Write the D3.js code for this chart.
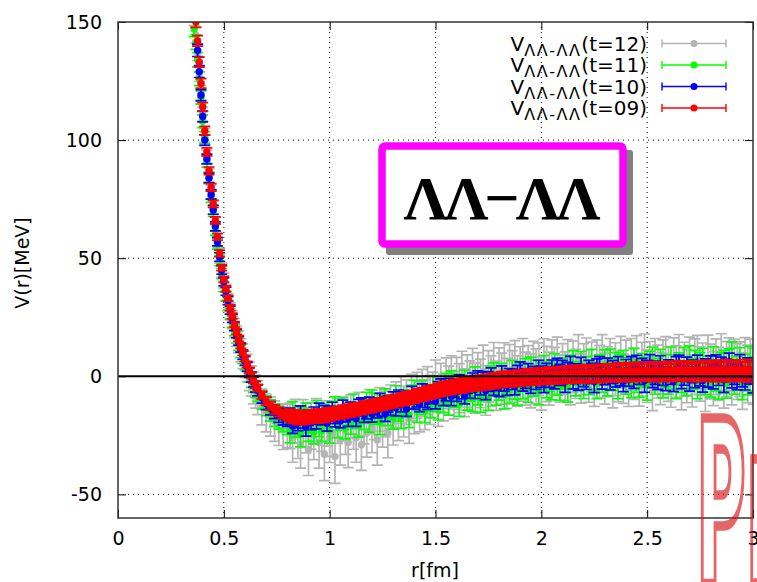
<!DOCTYPE html>
<html>
<head>
<meta charset="utf-8">
<script src="https://cdn.jsdelivr.net/npm/d3@7"></script>
<style>
  body { margin: 0; background: #fff; }
  svg { display: block; }
</style>
</head>
<body>
<svg id="chart" width="757" height="582"></svg>
<script>
// ---- data -------------------------------------------------------------
// separation r [fm], shared by all time slices
const rValues = [
  0.360,0.368,0.376,0.384,0.392,0.400,0.410,0.420,0.430,0.440,
  0.450,0.460,0.470,0.480,0.490,0.500,0.510,0.520,0.530,0.540,
  0.550,0.560,0.570,0.580,0.590,0.600,0.610,0.620,0.630,0.640,
  0.650,0.660,0.680,0.700,0.720,0.740,0.760,0.780,0.800,
  0.8125,0.825,0.8375,0.850,0.8625,0.875,0.8875,0.900,0.9125,0.925,
  0.9375,0.950,0.9625,0.975,0.9875,1.000,1.0125,1.025,1.0375,1.050,
  1.0625,1.075,1.0875,1.100,1.1125,1.125,1.1375,1.150,1.1625,1.175,
  1.1875,1.200,1.2125,1.225,1.2375,1.250,1.2625,1.275,1.2875,1.300,
  1.3125,1.325,1.3375,1.350,1.3625,1.375,1.3875,1.400,1.4125,1.425,
  1.4375,1.450,1.4625,1.475,1.4875,1.500,1.5125,1.525,1.5375,1.550,
  1.5625,1.575,1.5875,1.600,1.6125,1.625,1.6375,1.650,1.6625,1.675,
  1.6875,1.700,1.7125,1.725,1.7375,1.750,1.7625,1.775,1.7875,1.800,
  1.8125,1.825,1.8375,1.850,1.8625,1.875,1.8875,1.900,1.9125,1.925,
  1.9375,1.950,1.9625,1.975,1.9875,2.000,2.0125,2.025,2.0375,2.050,
  2.0625,2.075,2.0875,2.100,2.1125,2.125,2.1375,2.150,2.1625,2.175,
  2.1875,2.200,2.2125,2.225,2.2375,2.250,2.2625,2.275,2.2875,2.300,
  2.3125,2.325,2.3375,2.350,2.3625,2.375,2.3875,2.400,2.4125,2.425,
  2.4375,2.450,2.4625,2.475,2.4875,2.500,2.5125,2.525,2.5375,2.550,
  2.5625,2.575,2.5875,2.600,2.6125,2.625,2.6375,2.650,2.6625,2.675,
  2.6875,2.700,2.7125,2.725,2.7375,2.750,2.7625,2.775,2.7875,2.800,
  2.8125,2.825,2.8375,2.850,2.8625,2.875,2.8875,2.900,2.9125,2.925,
  2.9375,2.950,2.9625,2.975,2.9875,3.000
];

// V(r) [MeV] and statistical errors, t = 12
const vT12 = [
  152,144.5,137,128,120,111,102,93,85,78,
  71.5,64.5,57.5,51,45,40.5,35.5,31.5,27.5,24,
  20.5,17,14.5,11,8.5,5,3.5,0,-2,-5,
  -6.5,-9,-13,-15.5,-17,-19,-20.5,-22,-21,
  -21,-26,-19,-24,-29,-20,-23,-31,-21,-25,
  -19,-28,-22,-33,-20,-26,-24,-34,-19,-27,
  -18,-23,-28,-17,-21,-26,-16,-29,-19,-24,
  -15,-22,-17,-27,-14,-20,-16,-24,-13,-19,
  -12,-17,-10,-15,-11,-18,-9,-14,-8,-13,
  -7,-12,-6,-10,-8,-4,-11,-5,-9,-3,
  -6,-2,-8,-3,-5,0,-7,-2,-4,1,
  -5,-1,-3,2,-6,0,-2,3,-4,1,
  -1,3,-3,2,0,4,-2,1,5,-1,
  2,-2,4,0,3,-3,5,1,-1,4,
  2,6,-1,3,0,5,-2,4,1,7,
  -1,3,6,0,4,-2,5,2,7,-1,
  2,5,-3,3,0,6,-1,4,-2,5,
  1,6,-2,3,7,0,4,-3,5,2,
  -1,4,6,1,-2,5,2,6,-3,3,
  0,5,-2,4,6,1,3,-3,6,2,
  -1,4,1,6,-2,3,5,0,4,2,
  3,-2,5,1,4,0
];
const eT12 = [
  3.5,3.4,3.3,3.2,3.1,3.0,3.0,2.9,2.9,2.9,
  2.9,2.9,3.0,3.0,3.1,3.2,3.3,3.4,3.6,3.8,
  4.0,4.3,4.6,4.9,5.2,5.5,5.8,6.1,6.4,6.7,
  7.0,7.2,7.6,8.0,8.3,8.6,8.8,9.0,9.2,
  9.6,10.4,9.2,10.8,9.9,10.1,9.4,11.0,9.8,10.3,
  9.5,10.9,9.8,11.2,9.6,10.5,9.9,11.3,9.4,10.6,
  9.3,10.1,10.7,9.1,9.9,10.4,9.2,10.8,9.6,10.2,
  9.4,10.3,9.8,10.6,9.2,10.0,9.7,10.5,9.3,10.1,
  9.6,10.2,9.9,10.7,9.5,10.4,9.8,10.3,9.7,10.5,
  9.9,10.6,10.1,10.4,9.8,10.9,10.2,10.5,9.9,10.8,
  10.3,10.7,10.0,11.0,10.4,10.6,10.1,11.1,10.5,10.8,
  10.6,11.0,10.3,11.2,10.5,10.9,10.7,11.3,10.4,11.0,
  10.8,11.2,10.6,11.4,10.9,11.1,10.7,11.5,11.0,11.2,
  11.0,11.4,10.8,11.6,11.1,11.3,10.9,11.7,11.2,11.4,
  10.2,10.6,10.0,10.8,10.3,10.5,10.1,10.9,10.4,10.6,
  10.4,10.8,10.2,11.0,10.5,10.7,10.3,11.1,10.6,10.8,
  10.6,11.0,10.4,11.2,10.7,10.9,10.5,11.3,10.8,11.0,
  10.8,11.2,10.6,11.4,10.9,11.1,10.7,11.5,11.0,11.2,
  11.0,11.4,10.8,11.6,11.1,11.3,10.9,11.7,11.2,11.4,
  11.2,11.6,11.0,11.8,11.3,11.5,11.1,11.9,11.4,11.6,
  11.4,11.8,11.2,12.0,11.5,11.7,11.3,12.1,11.6,11.8,
  11.6,12.0,11.4,12.2,11.7,11.9
];

// t = 11
const vT11 = [
  147,141.5,134,126,118,108,101,91,84,76,
  70,62,56,49,43.5,38,34,30,26.5,23,
  19.5,16.5,13.5,10.5,8,5.5,3,0.5,-1.5,-3.5,
  -5.5,-7,-10,-12.5,-14.5,-16.5,-17.5,-18.5,-19.5,
  -23.0,-15.5,-20.4,-17.2,-24.6,-18.5,-16.1,-22.2,-19.2,-23.5,
  -15.1,-20.3,-23.0,-16.9,-18.2,-22.9,-15.3,-13.7,-20.8,-18.3,
  -14.2,-21.8,-16.3,-19.7,-12.6,-17.5,-20.4,-14.1,-17.8,-12.0,
  -18.7,-11.0,-15.7,-12.2,-19.4,-13.0,-10.4,-16.3,-13.0,-17.1,
  -9.1,-14.2,-16.8,-10.6,-11.8,-16.4,-8.7,-6.9,-14.0,-11.3,
  -7.1,-14.6,-9.1,-12.4,-5.3,-10.1,-13.0,-6.6,-10.3,-4.4,
  -11.1,-3.4,-8.0,-4.6,-11.8,-5.4,-2.8,-8.7,-5.4,-9.5,
  -1.6,-6.8,-9.4,-3.3,-4.5,-9.2,-1.5,0.2,-6.9,-4.3,
  -0.2,-7.8,-2.4,-5.8,1.3,-3.7,-6.6,-0.3,-4.1,1.7,
  -5.1,2.5,-2.2,1.1,-6.1,0.1,2.7,-3.3,-0.1,-4.3,
  3.6,-1.7,-4.4,1.6,0.3,-4.5,3.1,4.7,-2.5,0.1,
  4.3,-3.5,1.8,-1.8,5.1,0.0,-3.1,3.0,-0.9,4.7,
  -2.0,5.5,0.6,3.8,-3.6,2.5,4.9,-1.2,1.8,-2.5,
  5.4,0.0,-2.8,3.1,1.7,-3.2,4.3,5.8,-1.5,0.9,
  4.9,-2.9,2.4,-1.2,5.7,0.6,-2.5,3.6,-0.3,5.3,
  -1.6,5.9,1.0,4.2,-3.2,2.9,5.3,-0.8,2.2,-2.1,
  5.7,0.3,-2.5,3.4,2.0,-2.9,4.6,6.1,-1.2,1.2,
  5.2,-2.6,2.7,-0.9,6.0,0.9
];
const eT11 = [
  3.2,3.1,3.0,2.9,2.8,2.7,2.6,2.5,2.4,2.4,
  2.3,2.3,2.3,2.2,2.2,2.2,2.2,2.2,2.2,2.3,
  2.3,2.4,2.5,2.6,2.7,2.8,2.9,3.0,3.2,3.3,
  3.5,3.6,3.9,4.2,4.5,4.7,4.9,5.0,5.2,
  5.2,4.8,5.5,4.6,5.3,5.0,4.7,5.4,4.9,5.1,
  4.8,5.3,4.6,5.1,4.9,5.4,4.7,5.0,5.2,4.6,
  5.0,4.7,5.3,4.8,5.1,4.6,5.4,4.9,4.7,5.2,
  4.9,5.2,4.7,5.0,5.3,4.8,5.1,4.6,5.0,5.3,
  5.1,4.8,5.4,5.0,4.7,5.3,4.9,5.2,5.5,4.8,
  5.3,5.0,5.6,5.1,5.4,4.9,5.5,5.2,5.0,5.6,
  5.4,5.7,5.1,5.5,5.2,5.8,5.3,5.6,5.1,5.5,
  5.6,5.3,5.9,5.4,5.7,5.2,5.8,5.5,5.3,5.9,
  5.7,6.0,5.5,5.8,5.4,6.1,5.6,5.9,5.5,5.8,
  5.9,5.6,6.2,5.7,6.0,5.5,6.1,5.8,6.3,5.7,
  6.0,6.3,5.8,6.1,5.7,6.4,5.9,6.2,5.8,6.1,
  6.2,5.9,6.5,6.0,6.3,5.8,6.4,6.1,5.9,6.5,
  6.3,6.0,6.6,6.2,5.9,6.7,6.1,6.4,6.0,6.5,
  6.4,6.8,6.1,6.5,6.2,6.9,6.3,6.6,6.1,6.7,
  6.5,6.2,6.9,6.4,6.7,6.1,7.0,6.3,6.6,6.8,
  6.6,7.0,6.4,6.8,6.3,7.1,6.5,6.9,6.4,6.7,
  6.8,6.5,7.2,6.6,9.0,6.4,7.0,8.5,6.5,7.1,
  6.9,7.3,6.6,7.0,6.7,7.2
];

// t = 10
const vT10 = [
  162,154,138,129,119,110,100,92,84,77,
  70.5,63.5,57,50.5,45,40,36,32,28,24.5,
  21,18,15,12,9,6.5,4,1.5,-0.5,-2.5,
  -4.5,-6,-9,-11.5,-13.5,-15,-16.5,-17.5,-18,
  -16.9,-21.1,-18.1,-19.8,-16.0,-19.0,-21.6,-17.5,-19.5,-16.5,
  -19.1,-15.0,-17.6,-15.8,-19.9,-16.3,-14.1,-18.2,-16.5,-18.8,
  -13.4,-16.3,-17.8,-14.5,-15.2,-18.0,-13.3,-12.1,-16.2,-14.6,
  -11.9,-16.0,-13.0,-14.6,-10.8,-13.6,-16.0,-11.7,-13.3,-10.0,
  -13.3,-9.0,-11.5,-9.9,-13.9,-10.0,-7.7,-10.7,-9.4,-11.7,
  -6.6,-9.4,-10.7,-7.3,-7.8,-10.6,-5.8,-4.5,-8.5,-6.9,
  -4.5,-8.5,-5.3,-6.8,-2.8,-5.6,-8.0,-3.7,-5.4,-2.2,
  -5.6,-1.3,-3.8,-2.0,-6.0,-2.2,0.0,-4.1,-2.3,-4.5,
  0.4,-2.5,-3.9,-0.6,-1.3,-4.1,0.5,1.7,-2.4,-0.9,
  1.3,-2.8,0.3,-1.2,2.7,-0.2,-2.7,1.6,-0.3,2.8,
  -1.0,3.6,0.6,2.5,-2.2,1.8,4.0,-0.6,1.1,-1.5,
  3.6,0.3,-1.4,2.1,1.2,-2.1,2.9,4.1,-0.7,0.9,
  3.1,-1.5,1.8,-0.1,4.1,0.8,-2.1,2.4,0.2,3.5,
  -0.6,4.0,1.0,2.9,-1.8,2.2,4.4,-0.2,1.5,-1.1,
  3.9,0.6,-1.1,2.4,1.5,-1.8,3.2,4.4,-0.4,1.2,
  3.4,-1.2,2.1,0.2,4.4,1.1,-1.8,2.7,0.5,3.8,
  -0.3,4.3,1.3,3.2,-1.5,2.5,4.7,0.1,1.8,-0.8,
  4.1,0.8,-0.9,2.6,1.7,-1.6
];
const eT10 = [
  2.8,2.7,2.6,2.5,2.4,2.3,2.2,2.1,2.0,2.0,
  1.9,1.9,1.8,1.8,1.8,1.7,1.7,1.7,1.7,1.7,
  1.7,1.7,1.8,1.8,1.8,1.9,1.9,2.0,2.0,2.1,
  2.2,2.3,2.4,2.6,2.8,2.9,3.0,3.1,3.2,
  3.4,3.1,3.6,3.2,3.5,3.0,3.7,3.3,3.1,3.5,
  3.2,3.6,3.0,3.4,3.3,3.7,3.1,3.2,3.5,3.0,
  3.3,3.0,3.4,3.6,3.1,3.2,3.5,3.0,3.3,3.4,
  3.1,3.4,3.2,3.0,3.6,3.3,3.1,3.5,3.2,3.4,
  3.5,3.2,3.6,3.3,3.1,3.7,3.4,3.2,3.6,3.3,
  3.4,3.7,3.3,3.5,3.8,3.2,3.6,3.4,3.9,3.5,
  3.6,3.9,3.5,3.8,3.4,4.0,3.7,3.5,3.9,3.6,
  3.8,3.6,4.1,3.7,3.9,4.2,3.6,4.0,3.8,4.1,
  4.0,3.8,4.2,3.9,4.3,3.8,4.1,4.4,3.9,4.2,
  4.1,4.4,3.9,4.3,4.0,4.5,4.2,3.9,4.4,4.1,
  4.3,4.0,4.5,4.2,4.6,4.1,4.4,4.7,4.2,4.5,
  4.4,4.7,4.2,4.6,4.3,4.8,4.5,4.2,4.7,4.4,
  4.6,4.3,4.8,4.5,4.2,4.9,4.4,4.7,4.5,4.8,
  4.5,4.9,4.4,4.7,5.0,4.5,4.8,4.6,4.9,4.4,
  4.8,4.5,5.0,4.6,4.9,4.7,5.1,4.6,4.8,5.0,
  4.7,5.1,4.8,5.0,4.6,5.2,4.9,4.7,5.1,4.8,
  5.0,4.8,5.2,4.9,5.3,4.8,5.1,5.0,5.2,4.9,
  5.1,5.3,4.9,5.2,5.0,5.4
];

// t = 09
const vT09 = [
  158,150,142,133,124,114,104,95,87,80,
  73,66,59,52,46,41,37,33,29,25.5,
  22,19,16,13,10,7.5,5,2.5,0.5,-1.5,
  -3.5,-5,-8,-10.5,-12.5,-14,-15,-16,-16.5,
  -16.5,-17.4,-16.9,-17.8,-17.0,-17.9,-17.1,-17.6,-16.8,-17.3,
  -16.5,-17.2,-16.3,-16.9,-15.9,-16.5,-15.5,-16.0,-15.1,-15.6,
  -14.6,-15.2,-14.1,-14.8,-13.8,-14.4,-13.4,-13.9,-12.9,-13.4,
  -12.4,-13.0,-12.0,-12.5,-11.5,-12.0,-11.0,-11.5,-10.5,-11.0,
  -10.0,-10.5,-9.5,-10.0,-9.0,-9.5,-8.5,-8.9,-7.8,-8.3,
  -7.3,-7.7,-6.7,-7.1,-6.1,-6.5,-5.5,-6.0,-5.0,-5.5,
  -4.5,-5.1,-4.1,-4.7,-3.8,-4.3,-3.4,-3.9,-3.0,-3.5,
  -2.6,-3.2,-2.3,-2.9,-2.0,-2.6,-1.7,-2.3,-1.4,-2.0,
  -1.0,-1.7,-0.8,-1.5,-0.6,-1.3,-0.4,-1.1,-0.2,-0.9,
  0.0,-0.7,0.2,-0.5,0.4,-0.3,0.5,-0.2,0.7,0.0,
  0.8,0.1,0.9,0.2,1.0,0.3,1.1,0.4,1.2,0.5,
  1.3,0.6,1.4,0.7,1.5,0.8,1.6,0.9,1.7,1.0,
  1.8,1.0,1.9,1.1,2.0,1.2,2.1,1.3,2.2,1.3,
  2.2,1.4,2.3,1.4,2.3,1.5,2.4,1.5,2.4,1.5,
  2.4,1.6,2.5,1.6,2.5,1.6,2.5,1.7,2.6,1.7,
  2.6,1.7,2.6,1.7,2.6,1.8,2.7,1.8,2.7,1.8,
  2.7,1.8,2.7,1.8,2.8,1.9,2.8,1.9,2.8,1.9,
  2.8,1.9,2.9,1.9,2.9,1.9
];
const eT09 = [
  2.4,2.3,2.2,2.1,2.0,1.9,1.8,1.7,1.6,1.6,
  1.5,1.5,1.4,1.4,1.3,1.3,1.3,1.2,1.2,1.2,
  1.2,1.2,1.2,1.2,1.2,1.3,1.3,1.3,1.4,1.4,
  1.5,1.5,1.6,1.7,1.8,1.9,2.0,2.0,2.1,
  2.6,2.5,2.6,2.7,2.6,2.6,2.7,2.6,2.6,2.5,
  2.6,2.5,2.5,2.6,2.5,2.5,2.4,2.5,2.4,2.4,
  2.4,2.4,2.3,2.4,2.3,2.4,2.3,2.3,2.4,2.3,
  2.3,2.4,2.3,2.3,2.4,2.3,2.4,2.3,2.4,2.4,
  2.4,2.4,2.5,2.4,2.5,2.5,2.4,2.5,2.5,2.5,
  2.5,2.6,2.5,2.6,2.5,2.6,2.6,2.6,2.7,2.6,
  2.7,2.6,2.7,2.7,2.8,2.7,2.8,2.7,2.8,2.8,
  2.8,2.9,2.8,2.9,2.8,2.9,2.9,2.9,3.0,2.9,
  3.0,2.9,3.0,3.0,3.0,3.1,3.0,3.1,3.0,3.1,
  3.1,3.1,3.2,3.1,3.2,3.1,3.2,3.2,3.2,3.3,
  3.2,3.3,3.2,3.3,3.3,3.3,3.4,3.3,3.4,3.3,
  3.4,3.4,3.3,3.4,3.4,3.5,3.4,3.5,3.4,3.5,
  3.5,3.4,3.5,3.5,3.6,3.5,3.6,3.5,3.6,3.6,
  3.6,3.6,3.7,3.6,3.7,3.6,3.7,3.7,3.7,3.8,
  3.7,3.8,3.7,3.8,3.8,3.8,3.9,3.8,3.9,3.8,
  3.9,3.9,3.9,4.0,3.9,4.0,3.9,4.0,4.0,4.0,
  4.0,4.1,4.0,4.1,4.1,4.1,4.2,4.1,4.2,4.1,
  4.2,4.2,4.2,4.3,4.2,4.3
];

const seriesNames  = ["t=12", "t=11", "t=10", "t=09"];
const seriesColors = ["#b4b4b4", "#00ff00", "#0000ff", "#ff0000"];
const xTicks = [0, 0.5, 1, 1.5, 2, 2.5, 3];
const yTicks = [-50, 0, 50, 100, 150];

// ---- layout -----------------------------------------------------------
const W = 757, H = 582;
const plot = { left: 118, right: 753, top: 22, bottom: 518 };
const FONT = "DejaVu Sans";

const x = d3.scaleLinear().domain([0, 3]).range([plot.left, plot.right]);
const y = d3.scaleLinear().domain([-60, 150]).range([plot.bottom, plot.top]);

const svg = d3.select("#chart");
svg.append("rect").attr("width", W).attr("height", H).attr("fill", "#fff");

svg.append("defs").append("clipPath").attr("id", "plotClip")
  .append("rect")
  .attr("x", plot.left).attr("y", plot.top)
  .attr("width", plot.right - plot.left).attr("height", plot.bottom - plot.top);

// dotted grid
const grid = svg.append("g")
  .attr("stroke", "#000").attr("stroke-width", 1).attr("stroke-dasharray", "1,4");
grid.append("g").selectAll("line")
  .data(xTicks.filter(d => d > 0 && d < 3)).join("line")
  .attr("x1", d => x(d)).attr("x2", d => x(d))
  .attr("y1", plot.top).attr("y2", plot.bottom);
grid.append("g").selectAll("line")
  .data(yTicks.filter(d => d !== 0 && d < 150)).join("line")
  .attr("x1", plot.left).attr("x2", plot.right)
  .attr("y1", d => y(d)).attr("y2", d => y(d));

// ---- data points with error bars --------------------------------------
const series = seriesNames.map((name, i) => ({
  name, color: seriesColors[i],
  v: [vT12, vT11, vT10, vT09][i],
  e: [eT12, eT11, eT10, eT09][i]
}));

const dataLayer = svg.append("g").attr("clip-path", "url(#plotClip)");
const CAP = 5.5;
series.forEach(s => {
  const n = Math.min(rValues.length, s.v.length, s.e.length);
  const pts = rValues.slice(0, n).map((r, i) => ({ r, v: s.v[i], e: s.e[i] }));
  const g = dataLayer.append("g")
    .attr("stroke", s.color).attr("fill", s.color).attr("stroke-width", 1.7);
  const p = g.selectAll("g").data(pts).join("g");
  p.append("path").attr("fill", "none").attr("d", d => {
    const px = x(d.r), lo = y(d.v - d.e), hi = y(d.v + d.e);
    return `M${px},${lo}V${hi}M${px - CAP},${hi}H${px + CAP}M${px - CAP},${lo}H${px + CAP}`;
  });
  p.append("circle").attr("stroke", "none")
    .attr("cx", d => x(d.r)).attr("cy", d => y(d.v)).attr("r", 3.7);
});

// zero line
svg.append("line")
  .attr("x1", plot.left).attr("x2", plot.right)
  .attr("y1", y(0)).attr("y2", y(0))
  .attr("stroke", "#000").attr("stroke-width", 2);

// ---- axes ---------------------------------------------------------------
const fmt = d => String(d);
function styleAxis(g) {
  g.select(".domain").remove();
  g.attr("font-family", FONT).attr("font-size", 19);
  g.selectAll("text").attr("fill", "#000");
  g.selectAll("line").attr("stroke", "#000");
}
svg.append("g").attr("transform", `translate(0,${plot.bottom})`)
  .call(d3.axisBottom(x).tickValues(xTicks).tickFormat(fmt)
    .tickSizeInner(-8).tickSizeOuter(0).tickPadding(14))
  .call(styleAxis);
svg.append("g").attr("transform", `translate(${plot.left},0)`)
  .call(d3.axisLeft(y).tickValues(yTicks).tickFormat(fmt)
    .tickSizeInner(-8).tickSizeOuter(0).tickPadding(16))
  .call(styleAxis);
svg.append("g").attr("transform", `translate(0,${plot.top})`)
  .call(d3.axisTop(x).tickValues(xTicks).tickFormat("")
    .tickSizeInner(-8).tickSizeOuter(0))
  .call(styleAxis);
svg.append("g").attr("transform", `translate(${plot.right},0)`)
  .call(d3.axisRight(y).tickValues(yTicks).tickFormat("")
    .tickSizeInner(-8).tickSizeOuter(0))
  .call(styleAxis);

// frame
svg.append("rect")
  .attr("x", plot.left).attr("y", plot.top)
  .attr("width", plot.right - plot.left).attr("height", plot.bottom - plot.top)
  .attr("fill", "none").attr("stroke", "#333").attr("stroke-width", 1.5);

// axis titles
svg.append("text")
  .attr("transform", "translate(22,263) rotate(-90)")
  .attr("text-anchor", "middle").attr("dominant-baseline", "central")
  .attr("font-family", FONT).attr("font-size", 19).text("V(r)[MeV]");
svg.append("text")
  .attr("x", 435).attr("y", 577).attr("text-anchor", "middle")
  .attr("font-family", FONT).attr("font-size", 19).text("r[fm]");

// ---- legend -------------------------------------------------------------
const legend = svg.append("g").attr("font-family", FONT).attr("font-size", 20);
series.forEach((s, i) => {
  const cy = 43.5 + i * 21.5;
  const t = legend.append("text")
    .attr("x", 647).attr("y", cy + 7).attr("text-anchor", "end");
  t.append("tspan").text("V");
  t.append("tspan").attr("font-size", 16).attr("dy", 5)
    .attr("letter-spacing", 1.5).text("ΛΛ-ΛΛ");
  t.append("tspan").attr("dy", -5).text(`(${s.name})`);

  const k = legend.append("g").attr("stroke", s.color).attr("stroke-width", 1.4);
  k.append("path").attr("fill", "none")
    .attr("d", `M662,${cy}H726M662,${cy - 4}V${cy + 4}M726,${cy - 4}V${cy + 4}`);
  k.append("circle").attr("cx", 694).attr("cy", cy).attr("r", 3.5)
    .attr("fill", s.color).attr("stroke", "none");
});

// ---- channel label box --------------------------------------------------
const box = svg.append("g");
box.append("rect")
  .attr("x", 386).attr("y", 150).attr("width", 247).attr("height", 105)
  .attr("rx", 3).attr("fill", "#808080");
box.append("rect")
  .attr("x", 382).attr("y", 146).attr("width", 241).attr("height", 98)
  .attr("rx", 3).attr("fill", "#fff")
  .attr("stroke", "#ff00ff").attr("stroke-width", 7.5);
box.append("text")
  .attr("x", 502).attr("y", 219).attr("text-anchor", "middle")
  .attr("font-family", "Liberation Serif").attr("font-weight", "bold")
  .attr("font-size", 62)
  .attr("textLength", 197).attr("lengthAdjust", "spacing")
  .text("ΛΛ−ΛΛ");

// ---- outlined stamp ----------------------------------------------------
svg.append("text")
  .attr("transform", "translate(696,583) scale(0.30,1)")
  .attr("font-family", FONT).attr("font-weight", "bold").attr("font-size", 227)
  .attr("fill", "none").attr("stroke", "rgb(215,20,20)").attr("stroke-opacity", 0.65)
  .attr("stroke-width", 7).attr("vector-effect", "non-scaling-stroke")
  .text("Preliminary");
</script>
</body>
</html>
